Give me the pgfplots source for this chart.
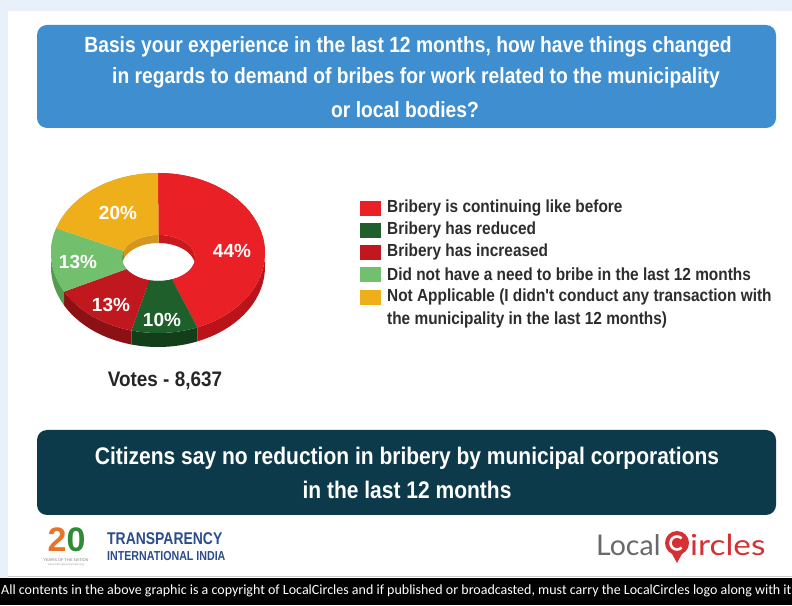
\documentclass[border=0pt]{standalone}
\usepackage{pgfplots}
\pgfplotsset{compat=1.18}
\usepackage{pgfplotstable}
\usepackage{fontspec}
\setmainfont{Liberation Sans}
\newfontfamily\ctitle{Liberation Sans}[FakeStretch=0.875]
\newfontfamily\cleg{Liberation Sans}[FakeStretch=0.88]
\newfontfamily\cond{Liberation Sans}[FakeStretch=0.82]
\newfontfamily\semi{Liberation Sans}[FakeStretch=0.9]
\newfontfamily\foot{Carlito}
\newfontfamily\lato{Lato}
\newfontfamily\latow{Lato}[FakeStretch=1.15]

\definecolor{bgblue}{RGB}{232,241,250}
\definecolor{titleblue}{RGB}{62,142,208}
\definecolor{darkbox}{RGB}{12,58,75}
\definecolor{cRed}{RGB}{233,32,38}
\definecolor{cRedW}{RGB}{186,20,26}
\definecolor{cRedH}{RGB}{200,26,30}
\definecolor{cDG}{RGB}{31,95,43}
\definecolor{cDGW}{RGB}{18,62,26}
\definecolor{cDR}{RGB}{192,24,30}
\definecolor{cDRW}{RGB}{140,16,20}
\definecolor{cLG}{RGB}{114,192,110}
\definecolor{cLGW}{RGB}{84,156,80}
\definecolor{cOR}{RGB}{238,175,26}
\definecolor{cORW}{RGB}{212,150,28}
\definecolor{legtext}{RGB}{45,45,45}
\definecolor{tiblue}{RGB}{44,76,140}
\definecolor{lcgray}{RGB}{105,105,105}
\definecolor{lcred}{RGB}{214,48,52}

% shares of the votes (percent), in order of the legend
\pgfplotstableread{
share
44
10
13
13
20
}\votestable
\pgfplotstablegetelem{0}{share}\of\votestable\edef\sA{\pgfplotsretval}
\pgfplotstablegetelem{1}{share}\of\votestable\edef\sB{\pgfplotsretval}
\pgfplotstablegetelem{2}{share}\of\votestable\edef\sC{\pgfplotsretval}
\pgfplotstablegetelem{3}{share}\of\votestable\edef\sD{\pgfplotsretval}
\pgfplotstablegetelem{4}{share}\of\votestable\edef\sE{\pgfplotsretval}
\pgfmathsetmacro\aA{90}
\pgfmathsetmacro\aB{\aA-3.6*\sA}
\pgfmathsetmacro\aC{\aB-3.6*\sB}
\pgfmathsetmacro\aD{\aC-3.6*\sC}
\pgfmathsetmacro\aE{\aD-3.6*\sD}
\pgfmathsetmacro\aF{\aE-3.6*\sE}

% ellipse geometry (pixels, relative to centre)
\def\orx{107}\def\ory{80}\def\oh{14}
\def\icx{0.5}\def\icy{-5}\def\irx{36.5}\def\iry{23}\def\ih{8}

% wall: arc a->b on ellipse (cx,cy,rx,ry), back along the same arc shifted down by h
\newcommand{\ringwall}[8]{%
 \addplot[fill=#3, draw=none, forget plot, domain=0:2, samples=81, variable=\t]
 ({(#4)+(#6)*cos(ifthenelse(\t<1.0125, (#1)+((#2)-(#1))*\t, (#1)+((#2)-(#1))*min(1,(2-\t)*40/39)))},
  {(#5)+(#7)*sin(ifthenelse(\t<1.0125, (#1)+((#2)-(#1))*\t, (#1)+((#2)-(#1))*min(1,(2-\t)*40/39))) - ifthenelse(\t<1.0125,0,(#8))});
}
% top face: outer arc a->b, inner arc b->a
\newcommand{\topface}[3]{%
 \addplot[fill=#3, draw=none, domain=0:2, samples=81, variable=\t]
 ({ifthenelse(\t<1.0125, \orx*cos((#1)+((#2)-(#1))*\t), \icx+\irx*cos((#1)+((#2)-(#1))*min(1,(2-\t)*40/39)))},
  {ifthenelse(\t<1.0125, \ory*sin((#1)+((#2)-(#1))*\t), \icy+\iry*sin((#1)+((#2)-(#1))*min(1,(2-\t)*40/39)))});
}

\begin{document}
\begin{tikzpicture}
\useasboundingbox (0pt,0pt) rectangle (792pt,605pt);
\begin{scope}[shift={(0pt,605pt)}, x=1pt, y=-1pt]
 \fill[bgblue] (0,0) rectangle (792,605);
 \fill[white] (8,11) rectangle (792,578);
 % title box
 \fill[titleblue, rounded corners=10pt] (37,25) rectangle (776,128);
 \begin{scope}[every node/.style={white, font=\ctitle\bfseries\fontsize{22}{26}\selectfont}]
  \node at (408,47) {Basis your experience in the last 12 months, how have things changed};
  \node at (416,78) {in regards to demand of bribes for work related to the municipality};
  \node at (405,110) {or local bodies?};
 \end{scope}
 % legend
 \begin{scope}[every node/.style={anchor=west, text=legtext, font=\cleg\bfseries\fontsize{17.5}{20}\selectfont, inner sep=0pt}]
  \fill[cRed] (360,201) rectangle (381,216); \node at (387,208) {Bribery is continuing like before};
  \fill[cDG]  (360,223) rectangle (381,238); \node at (387,230) {Bribery has reduced};
  \fill[cDR]  (360,245) rectangle (381,260); \node at (387,252) {Bribery has increased};
  \fill[cLG]  (360,267) rectangle (381,282); \node at (387,274) {Did not have a need to bribe in the last 12 months};
  \fill[cOR]  (360,290) rectangle (381,305); \node at (387,297) {Not Applicable (I didn't conduct any transaction with};
  \node at (387,320) {the municipality in the last 12 months)};
 \end{scope}
 % votes
 \node[text=black!85, font=\semi\bfseries\fontsize{21}{24}\selectfont] at (165,381) {Votes - 8,637};
 % dark box
 \fill[darkbox, rounded corners=10pt] (37,430) rectangle (776,515);
 \begin{scope}[every node/.style={white, font=\ctitle\bfseries\fontsize{24}{28}\selectfont}]
  \node at (407,458) {Citizens say no reduction in bribery by municipal corporations};
  \node at (407,490) {in the last 12 months};
 \end{scope}
 % Transparency International India logo
 \node[inner sep=0pt, text={rgb,255:red,232;green,116;blue,42}, font=\bfseries\fontsize{34}{34}\selectfont] at (57,540) {2};
 \node[inner sep=0pt, text={rgb,255:red,46;green,139;blue,58}, font=\bfseries\fontsize{34}{34}\selectfont] at (76,540) {0};
 \node[inner sep=0pt, text=gray, font=\fontsize{4}{4}\selectfont] at (66,560) {YEARS OF THE NATION};
 \node[inner sep=0pt, text=gray!70, font=\fontsize{3}{3}\selectfont] at (66,565) {www.transparencyindia.org};
 \node[anchor=west, inner sep=0pt, text=tiblue, font=\cond\bfseries\fontsize{17}{18}\selectfont] at (107,539) {TRANSPARENCY};
 \node[anchor=west, inner sep=0pt, text=tiblue, font=\cond\bfseries\fontsize{13}{14}\selectfont] at (107,556) {INTERNATIONAL INDIA};
 % LocalCircles logo
 \node[anchor=west, inner sep=0pt, text=lcgray, font=\lato\fontsize{28.5}{30}\selectfont] at (596,545) {Local};
 \fill[lcred] (671,552) -- (677,563) -- (683,552) -- cycle;
 \fill[lcred] (677,543) circle[radius=12];
 \draw[white, line width=2.6pt] (677,543) ++(45:6.5) arc[start angle=45, end angle=315, radius=6.5];
 \node[anchor=west, inner sep=0pt, text=lcred, font=\latow\fontsize{29}{30}\selectfont] at (690,545) {ircles};
 % footer
 \draw[gray!40] (8,576.5) -- (792,576.5);
 \fill[black] (0,578) rectangle (792,605);
 \node[anchor=west, inner sep=0pt, white, font=\foot\fontsize{14}{16}\selectfont] at (1,591) {All contents in the above graphic is a copyright of LocalCircles and if published or broadcasted, must carry the LocalCircles logo along with it};
\end{scope}

\begin{axis}[at={(48pt,252pt)}, anchor=south west, width=220pt, height=200pt,
  scale only axis, xmin=-110, xmax=110, ymin=-100, ymax=100, hide axis, clip=false]
 % outer side walls
 \ringwall{\aA}{\aB}{cRedW}{0}{0}{\orx}{\ory}{\oh}
 \ringwall{\aB}{\aC}{cDGW}{0}{0}{\orx}{\ory}{\oh}
 \ringwall{\aC}{\aD}{cDRW}{0}{0}{\orx}{\ory}{\oh}
 \ringwall{\aD}{\aE}{cLGW}{0}{0}{\orx}{\ory}{\oh}
 \ringwall{\aE}{\aF}{cORW}{0}{0}{\orx}{\ory}{\oh}
 % inner wall of the hole
 \ringwall{\aA}{\aB}{cRedH}{\icx}{\icy}{\irx}{\iry}{\ih}
 \ringwall{\aB}{\aC}{cDGW}{\icx}{\icy}{\irx}{\iry}{\ih}
 \ringwall{\aC}{\aD}{cDRW}{\icx}{\icy}{\irx}{\iry}{\ih}
 \ringwall{\aD}{\aE}{cLGW}{\icx}{\icy}{\irx}{\iry}{\ih}
 \ringwall{\aE}{\aF}{cORW}{\icx}{\icy}{\irx}{\iry}{\ih}
 % top faces
 \topface{\aA}{\aB}{cRed}
 \topface{\aB}{\aC}{cDG}
 \topface{\aC}{\aD}{cDR}
 \topface{\aD}{\aE}{cLG}
 \topface{\aE}{\aF}{cOR}
 % labels
 \begin{scope}[every node/.style={white, font=\bfseries\fontsize{19}{20}\selectfont}]
  \node at (axis cs:74,2) {\sA\%};
  \node at (axis cs:4,-67) {\sB\%};
  \node at (axis cs:-47,-52) {\sC\%};
  \node at (axis cs:-80,-9) {\sD\%};
  \node at (axis cs:-40,40) {\sE\%};
 \end{scope}
\end{axis}
\end{tikzpicture}
\end{document}
